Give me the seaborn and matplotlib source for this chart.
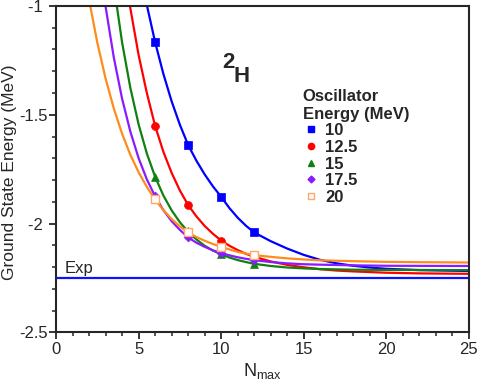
import pandas as pd
import matplotlib
matplotlib.use('Agg')
import matplotlib.pyplot as plt
from matplotlib.lines import Line2D
from matplotlib.ticker import MultipleLocator, FuncFormatter
import seaborn as sns

# oscillator energies (MeV)
energies = ['10', '12.5', '15', '17.5', '20']
colors = ['#0000ff', '#ff0000', '#108010', '#8a1aff', '#ff8c1a']
markers = ['s', 'o', '^', 'D', 's']

# computed points (Nmax = 6, 8, 10, 12)
n_pts = [6, 8, 10, 12]
e_10 = [-1.166, -1.639, -1.877, -2.041]
e_125 = [-1.551, -1.915, -2.078, -2.153]
e_15 = [-1.785, -2.035, -2.141, -2.184]
e_175 = [-1.875, -2.064, -2.136, -2.168]
e_20 = [-1.889, -2.041, -2.107, -2.145]

# fitted curves
n_10 = [5, 5.5, 6, 6.5, 7, 7.5, 8, 8.5, 9, 9.5, 10, 10.5, 11, 11.5, 12,
        13, 14, 15, 16, 17, 18, 19, 20, 22, 25]
fit_10 = [-0.797, -0.996, -1.166, -1.312, -1.438, -1.546, -1.639, -1.711,
          -1.774, -1.829, -1.877, -1.929, -1.973, -2.010, -2.041,
          -2.081, -2.115, -2.144, -2.167, -2.183, -2.194, -2.202, -2.208,
          -2.214, -2.218]

n_125 = [4, 4.5, 5, 5.5, 6, 6.5, 7, 7.5, 8, 8.5, 9, 9.5, 10, 10.5, 11, 11.5,
         12, 13, 14, 15, 16, 17, 18, 20, 22, 25]
fit_125 = [-0.769, -1.010, -1.225, -1.400, -1.551, -1.670, -1.767, -1.848,
           -1.915, -1.967, -2.011, -2.047, -2.078, -2.102, -2.122, -2.139,
           -2.153, -2.174, -2.190, -2.201, -2.210, -2.216, -2.220, -2.226,
           -2.229, -2.231]

n_15 = [3.5, 4, 4.5, 5, 5.5, 6, 6.5, 7, 7.5, 8, 8.5, 9, 9.5, 10, 10.5, 11,
        11.5, 12, 13, 14, 15, 16, 18, 20, 25]
fit_15 = [-0.905, -1.167, -1.376, -1.544, -1.678, -1.785, -1.871, -1.939,
          -1.994, -2.038, -2.073, -2.102, -2.124, -2.142, -2.156, -2.168,
          -2.177, -2.185, -2.195, -2.202, -2.206, -2.209, -2.212, -2.213,
          -2.214]

n_175 = [2.5, 3, 3.5, 4, 4.5, 5, 5.5, 6, 6.5, 7, 7.5, 8, 8.5, 9, 9.5, 10,
         10.5, 11, 11.5, 12, 13, 14, 15, 16, 18, 20, 25]
fit_175 = [-0.709, -1.002, -1.237, -1.426, -1.577, -1.699, -1.797, -1.875,
           -1.938, -1.989, -2.029, -2.064, -2.088, -2.107, -2.123, -2.136,
           -2.146, -2.155, -2.162, -2.168, -2.177, -2.183, -2.187, -2.189,
           -2.192, -2.194, -2.195]

n_20 = [1.5, 2, 2.5, 3, 3.5, 4, 4.5, 5, 5.5, 6, 6.5, 7, 7.5, 8, 8.5, 9, 9.5,
        10, 10.5, 11, 11.5, 12, 13, 14, 15, 16, 17, 18, 20, 22, 25]
fit_20 = [-0.735, -0.971, -1.168, -1.333, -1.471, -1.587, -1.684, -1.764,
          -1.832, -1.889, -1.938, -1.979, -2.013, -2.041, -2.062, -2.079,
          -2.094, -2.107, -2.119, -2.130, -2.138, -2.145, -2.153, -2.160,
          -2.165, -2.169, -2.171, -2.173, -2.176, -2.1775, -2.179]

exp_n = [0, 25]
exp_e = [-2.25, -2.25]

curves = [(n_10, fit_10), (n_125, fit_125), (n_15, fit_15),
          (n_175, fit_175), (n_20, fit_20)]
points = [e_10, e_125, e_15, e_175, e_20]

sns.set_style('ticks')
plt.rcParams['font.family'] = ['Liberation Sans', 'DejaVu Sans']
plt.rcParams['mathtext.fontset'] = 'custom'
plt.rcParams['mathtext.rm'] = 'Liberation Sans'
plt.rcParams['mathtext.it'] = 'Liberation Sans'

fig = plt.figure(figsize=(4.9, 3.86), dpi=100)
ax = fig.add_axes([0.1143, 0.139, 0.8427, 0.8455])

sns.lineplot(x=exp_n, y=exp_e, color='#0a14ff', lw=1.6, ax=ax)

for (nx, fy), c in zip(curves, colors):
    df = pd.DataFrame({'N': nx, 'E': fy})
    sns.lineplot(data=df, x='N', y='E', color=c, lw=1.6, sort=False, ax=ax)

for ys, c, m, lab in zip(points, colors, markers, energies):
    df = pd.DataFrame({'N': n_pts, 'E': ys})
    if lab == '20':
        sns.scatterplot(data=df, x='N', y='E', marker=m, s=30,
                        facecolor='white', edgecolor='#ffa868',
                        linewidth=1.0, ax=ax, zorder=5)
    else:
        sz = 20 if m == 'D' else 32
        sns.scatterplot(data=df, x='N', y='E', marker=m, s=sz, color=c,
                        edgecolor=c, linewidth=0.5, ax=ax, zorder=5)


def ylab(v, p):
    s = '{:g}'.format(v)
    if '.' not in s:
        s += ' '
    return s


ax.set_xlim(0, 25)
ax.set_ylim(-2.5, -1)
ax.xaxis.set_major_locator(MultipleLocator(5))
ax.xaxis.set_minor_locator(MultipleLocator(1))
ax.yaxis.set_major_locator(MultipleLocator(0.5))
ax.yaxis.set_minor_locator(MultipleLocator(0.1))
ax.yaxis.set_major_formatter(FuncFormatter(ylab))
ax.tick_params(which='major', length=5, width=1.3, labelsize=12, direction='out', pad=1)
ax.tick_params(axis='x', pad=2)
ax.tick_params(which='minor', length=3, width=1.1, direction='out')
for s in ax.spines.values():
    s.set_linewidth(1.5)
    s.set_visible(True)

ax.set_xlabel(r'N$_{\rm max}$', fontsize=13, labelpad=3)
ax.set_ylabel('Ground State Energy (MeV)', fontsize=12.5)
ax.yaxis.set_label_coords(-0.094, 0.49)

ax.text(0.5, -2.24, 'Exp', fontsize=12, va='bottom', ha='left')
ax.text(10.05, -1.26, '2', fontsize=16, fontweight='bold', ha='left', va='center')
ax.text(10.75, -1.325, 'H', fontsize=16, fontweight='bold', ha='left', va='center')

handles = []
for c, m, lab in zip(colors, markers, energies):
    if lab == '20':
        h = Line2D([], [], ls='none', marker=m, ms=5, mfc='white',
                   mec='#ffa868', mew=1.0)
    else:
        h = Line2D([], [], ls='none', marker=m, ms=4.5 if m != 'D' else 3.5,
                   color=c)
    handles.append(h)
leg = ax.legend(handles, energies, title='Oscillator\nEnergy (MeV)',
                loc='upper left', bbox_to_anchor=(0.597, 0.745), frameon=False,
                prop={'weight': 'bold', 'size': 12}, handlelength=1.0,
                handletextpad=0.35, labelspacing=0.1, borderpad=0,
                borderaxespad=0)
leg.get_title().set_fontweight('bold')
leg.get_title().set_fontsize(12)
leg._legend_box.align = 'left'

fig.savefig('out.png', dpi=100)
